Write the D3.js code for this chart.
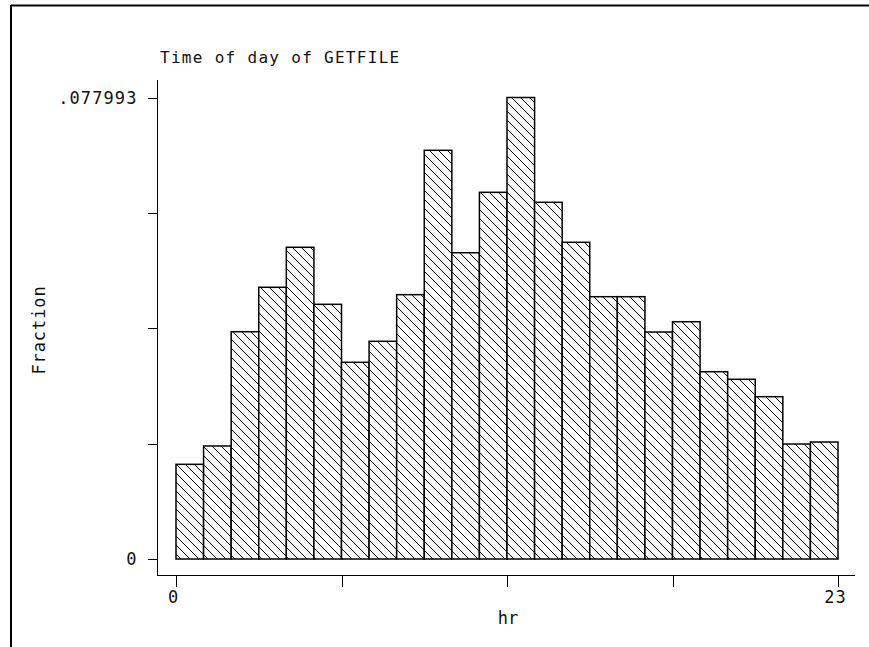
<!DOCTYPE html>
<html lang="en">
<head>
    <meta charset="UTF-8">
    <title>Time of day of GETFILE</title>
    <script src="https://d3js.org/d3.v7.min.js"></script>
    <style>
        body { margin: 0; background: #fff; }
        text {
            font-family: "DejaVu Sans Mono", monospace;
            fill: #111;
        }
        .bar {
            fill: url(#hatch);
            stroke: #000;
            stroke-width: 1.5px;
        }
        .axis line, .axis path { stroke: #000; stroke-width: 1px; shape-rendering: crispEdges; }
    </style>
</head>
<body>
    <svg width="869" height="647"></svg>

    <script>
        // Fraction of GETFILE calls per hour bin (24 bins over 0..23)
        const bins = d3.range(24);
        const fractions = [
            0.01600, 0.01910, 0.03841, 0.04592, 0.05268, 0.04304,
            0.03324, 0.03679, 0.04467, 0.06907, 0.05176, 0.06197,
            0.077993, 0.06028, 0.05352, 0.04433, 0.04433, 0.03836,
            0.04010, 0.03165, 0.03037, 0.02743, 0.01943, 0.01977
        ];
        const xTicks = [0, 5.75, 11.5, 17.25, 23];
        const xTickLabels = ["0", "", "", "", "23"];
        const yMax = 0.077993;
        const yTicks = [0, yMax / 4, yMax / 2, yMax * 3 / 4, yMax];
        const yTickLabels = ["0", "", "", "", ".077993"];

        const svg = d3.select("svg");

        // Rayures diagonales
        const pat = svg.append("defs").append("pattern")
            .attr("id", "hatch")
            .attr("patternUnits", "userSpaceOnUse")
            .attr("width", 9)
            .attr("height", 9);
        pat.append("rect").attr("width", 9).attr("height", 9).attr("fill", "#fff");
        pat.append("path")
            .attr("d", "M-1,-1 L10,10 M-1,8 L1,10 M8,-1 L10,1")
            .attr("stroke", "#000")
            .attr("stroke-width", 1);

        // cadre (haut et gauche)
        svg.append("line").attr("x1", 11).attr("x2", 869).attr("y1", 5.5).attr("y2", 5.5)
            .attr("stroke", "#000").attr("stroke-width", 2);
        svg.append("line").attr("x1", 11).attr("x2", 11).attr("y1", 5).attr("y2", 647)
            .attr("stroke", "#000").attr("stroke-width", 2);

        const x = d3.scaleLinear().domain([0, 23]).range([176, 838]);
        const y = d3.scaleLinear().domain([0, yMax]).range([559, 97.5]);
        const binW = 23 / bins.length;

        svg.selectAll(".bar")
            .data(bins)
            .enter()
            .append("rect")
            .attr("class", "bar")
            .attr("x", d => x(d * binW))
            .attr("width", d => x((d + 1) * binW) - x(d * binW))
            .attr("y", d => y(fractions[d]))
            .attr("height", d => y(0) - y(fractions[d]));

        // axes
        const xAxis = svg.append("g")
            .attr("class", "axis")
            .attr("transform", "translate(0,575.5)")
            .call(d3.axisBottom(x).tickValues(xTicks).tickSize(11).tickPadding(4)
                .tickFormat((d, i) => xTickLabels[i]));
        xAxis.select(".domain").remove();
        xAxis.selectAll("text").style("font-size", "17px").style("letter-spacing", "1px").attr("dx", "-3");

        const yAxis = svg.append("g")
            .attr("class", "axis")
            .attr("transform", "translate(157.5,0)")
            .call(d3.axisLeft(y).tickValues(yTicks).tickSize(10).tickPadding(10)
                .tickFormat((d, i) => yTickLabels[i]));
        yAxis.select(".domain").remove();
        yAxis.selectAll("text").style("font-size", "17px").style("letter-spacing", "1.1px").attr("dy", "0.35em");

        svg.append("path")
            .attr("d", "M157.5,80 L157.5,575.5 L855,575.5")
            .attr("fill", "none")
            .attr("stroke", "#000")
            .attr("stroke-width", 1)
            .attr("shape-rendering", "crispEdges");

        svg.append("text")
            .attr("x", 160)
            .attr("y", 63)
            .style("font-size", "16px")
            .style("letter-spacing", "1.3px")
            .text("Time of day of GETFILE");

        svg.append("text")
            .attr("x", 508)
            .attr("y", 624)
            .attr("text-anchor", "middle")
            .style("font-size", "17px")
            .text("hr");

        svg.append("text")
            .attr("transform", "translate(45,330) rotate(-90)")
            .attr("text-anchor", "middle")
            .style("font-size", "17px")
            .style("letter-spacing", "0.9px")
            .text("Fraction");
    </script>
</body>
</html>
